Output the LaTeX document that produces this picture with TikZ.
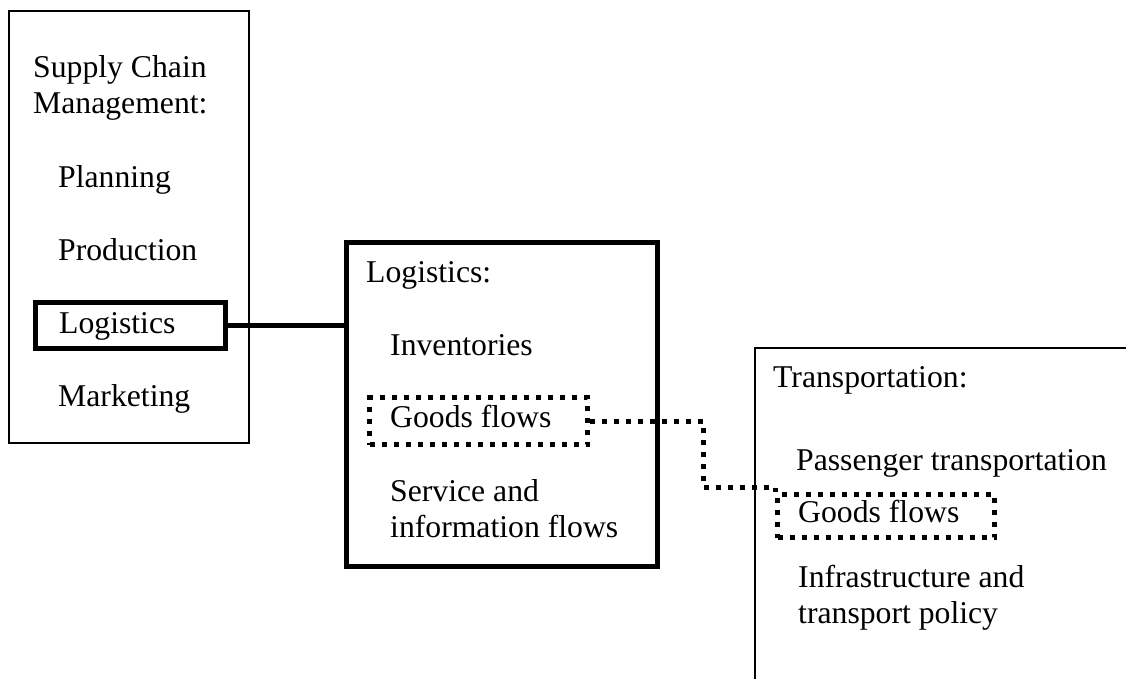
\documentclass[tikz,border=0pt]{standalone}
\usepackage{fontspec}
\setmainfont{Liberation Serif}
\begin{document}
\begin{tikzpicture}[x=1pt,y=-1pt,
  txt/.style={inner sep=0pt, anchor=base west, font=\fontsize{31.7}{36}\selectfont},
  thinbox/.style={draw, line width=1.6pt, inner sep=0pt, anchor=north west},
  thickbox/.style={draw, line width=5pt, inner sep=0pt, anchor=north west},
  dotbox/.style={draw, line width=5pt, dash pattern=on 5pt off 7pt, inner sep=0pt, anchor=north west},
  thickline/.style={line width=5pt},
  dotline/.style={line width=5pt, dash pattern=on 5pt off 7pt}]
\useasboundingbox (0,0) rectangle (1126,679);
\clip (0,0) rectangle (1126,679);
% boxes
\node[thinbox, minimum width=240pt, minimum height=432pt] (scm) at (8,10) {};
\node[thickbox, minimum width=190pt, minimum height=46pt] (scmlog) at (32.5,299.5) {};
\node[thickbox, minimum width=311pt, minimum height=324pt] (logbox) at (344,240) {};
\node[dotbox, minimum width=218pt, minimum height=47pt] (goods1) at (367,395) {};
\node[thinbox, minimum width=420pt, minimum height=380pt] (trans) at (754,347) {};
\node[dotbox, minimum width=217pt, minimum height=43pt] (goods2) at (775,492) {};
% texts
\node[txt] (t1) at (33,78) {Supply Chain};
\node[txt] (t2) at (33,114) {Management:};
\node[txt] (t3) at (58,187) {Planning};
\node[txt] (t4) at (58,260) {Production};
\node[txt] (t5) at (59,333) {Logistics};
\node[txt] (t6) at (58,406) {Marketing};
\node[txt] (l1) at (366,282) {Logistics:};
\node[txt] (l2) at (390,355) {Inventories};
\node[txt] (l3) at (390,427) {Goods flows};
\node[txt] (l4) at (390,501) {Service and};
\node[txt] (l5) at (390,537) {information flows};
\node[txt] (r1) at (773,387) {Transportation:};
\node[txt] (r2) at (796,470) {Passenger transportation};
\node[txt] (r3) at (798,522) {Goods flows};
\node[txt] (r4) at (798,587) {Infrastructure and};
\node[txt] (r5) at (798,623) {transport policy};
% connectors
\draw[thickline] (scmlog.east) -- (scmlog.east -| logbox.west);
\coordinate (k1) at (703,421);
\coordinate (k2) at (703,487);
\draw[dotline] (goods1.east |- k1) -- (k1) -- (k2) -- (k2 -| goods2.west) -- (goods2.north west);
\end{tikzpicture}
\end{document}
